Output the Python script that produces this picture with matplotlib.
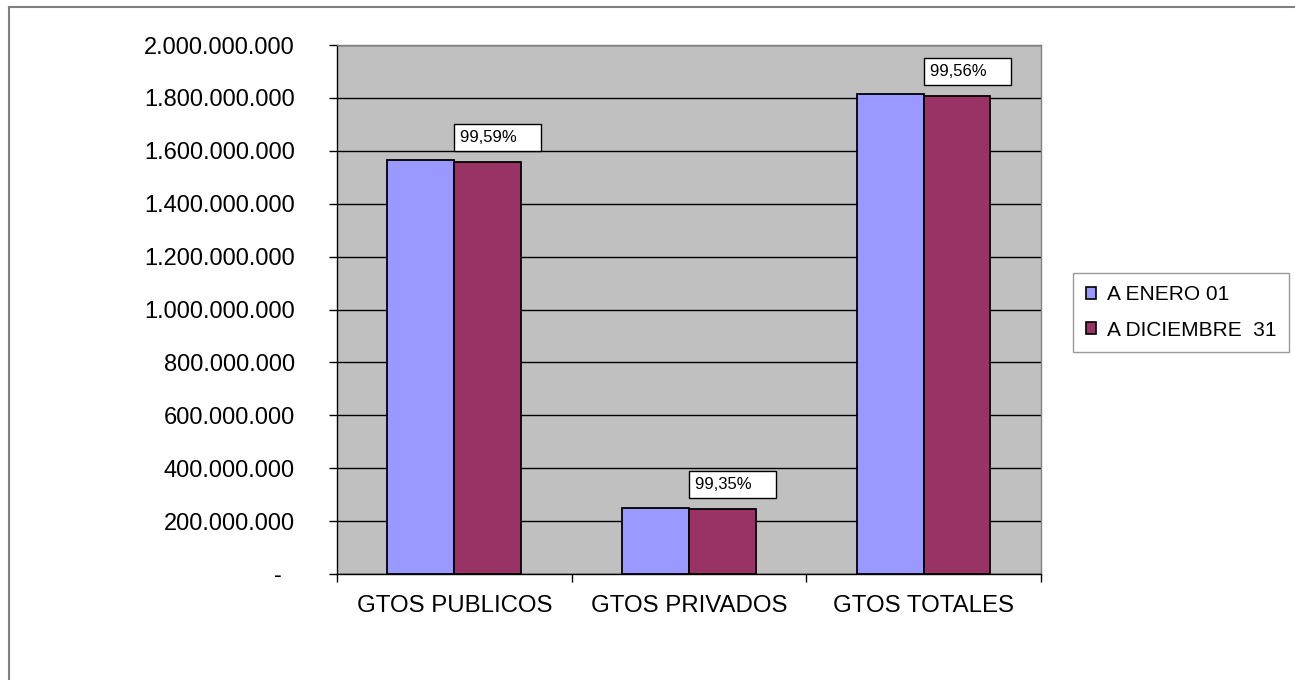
import matplotlib.pyplot as plt
import numpy as np
from matplotlib.lines import Line2D
from matplotlib.patches import Patch

plt.rcParams['font.family'] = ['Liberation Sans', 'DejaVu Sans']

categorias = ['GTOS PUBLICOS', 'GTOS PRIVADOS', 'GTOS TOTALES']
enero = [1565000000, 248500000, 1816000000]
diciembre = [1558600000, 246900000, 1808000000]
porcentajes = ['99,59%', '99,35%', '99,56%']
series = ['A ENERO 01', 'A DICIEMBRE  31']
y_ticks = [0, 200000000, 400000000, 600000000, 800000000, 1000000000,
           1200000000, 1400000000, 1600000000, 1800000000, 2000000000]

azul = '#9999FF'
granate = '#993366'

fig = plt.figure(figsize=(12.95, 6.8), dpi=100)
ax = fig.add_axes([0.2602, 0.1559, 0.5436, 0.7779])
ax.set_facecolor('#C0C0C0')

x = np.arange(len(categorias))
w = 0.285
ax.bar(x - w / 2, enero, w, color=azul, edgecolor='black', linewidth=1.3, zorder=3)
ax.bar(x + w / 2, diciembre, w, color=granate, edgecolor='black', linewidth=1.3, zorder=3)

# etiquetas de porcentaje encima de la barra de diciembre
for i, txt in enumerate(porcentajes):
    ax.annotate(txt + '    ', xy=(x[i], diciembre[i]), textcoords='offset pixels',
                xytext=(6, 17), ha='left', va='bottom', fontsize=12,
                bbox=dict(boxstyle='square,pad=0.35', fc='white', ec='black', lw=1),
                zorder=5)

ax.set_xlim(-0.5, 2.5)
ax.set_ylim(0, 2000000000)

ax.set_yticks(y_ticks)
etiquetas_y = ['-  '] + [f'{v:,}'.replace(',', '.') for v in y_ticks[1:]]
ax.set_yticklabels(etiquetas_y, fontsize=17)
ax.tick_params(axis='y', length=5.8, width=1, pad=24.5, color='black')
ax.yaxis.grid(True, color='black', linewidth=1, zorder=0)
ax.set_axisbelow(True)

ax.set_xticks(x)
ax.set_xticklabels(categorias, fontsize=17.3)
ax.set_xticks([-0.5, 0.5, 1.5, 2.5], minor=True)
ax.tick_params(axis='x', which='major', length=0, pad=15)
ax.tick_params(axis='x', which='minor', length=5.8, width=1, color='black')

ax.spines['left'].set_color('black')
ax.spines['bottom'].set_color('black')
ax.spines['top'].set_color('#808080')
ax.spines['right'].set_color('#808080')
for s in ax.spines.values():
    s.set_linewidth(1)

handles = [Patch(facecolor=azul, edgecolor='black', linewidth=1.2),
           Patch(facecolor=granate, edgecolor='black', linewidth=1.2)]
leg = fig.legend(handles, series, loc='center left',
                 bbox_to_anchor=(1073 / 1295, 1 - 312.5 / 680),
                 fontsize=15, frameon=True, fancybox=False,
                 handlelength=0.5, handleheight=0.5, handletextpad=0.55,
                 labelspacing=0.8, borderpad=0.6, borderaxespad=0)
leg.get_frame().set_edgecolor('#808080')
leg.get_frame().set_linewidth(1)

# marco exterior del grafico
fig.add_artist(Line2D([9 / 1295, 9 / 1295], [0, 1 - 7 / 680], color='#808080', lw=1.5))
fig.add_artist(Line2D([9 / 1295, 1], [1 - 7 / 680, 1 - 7 / 680], color='#808080', lw=1.5))

fig.savefig('out.png', dpi=100)
